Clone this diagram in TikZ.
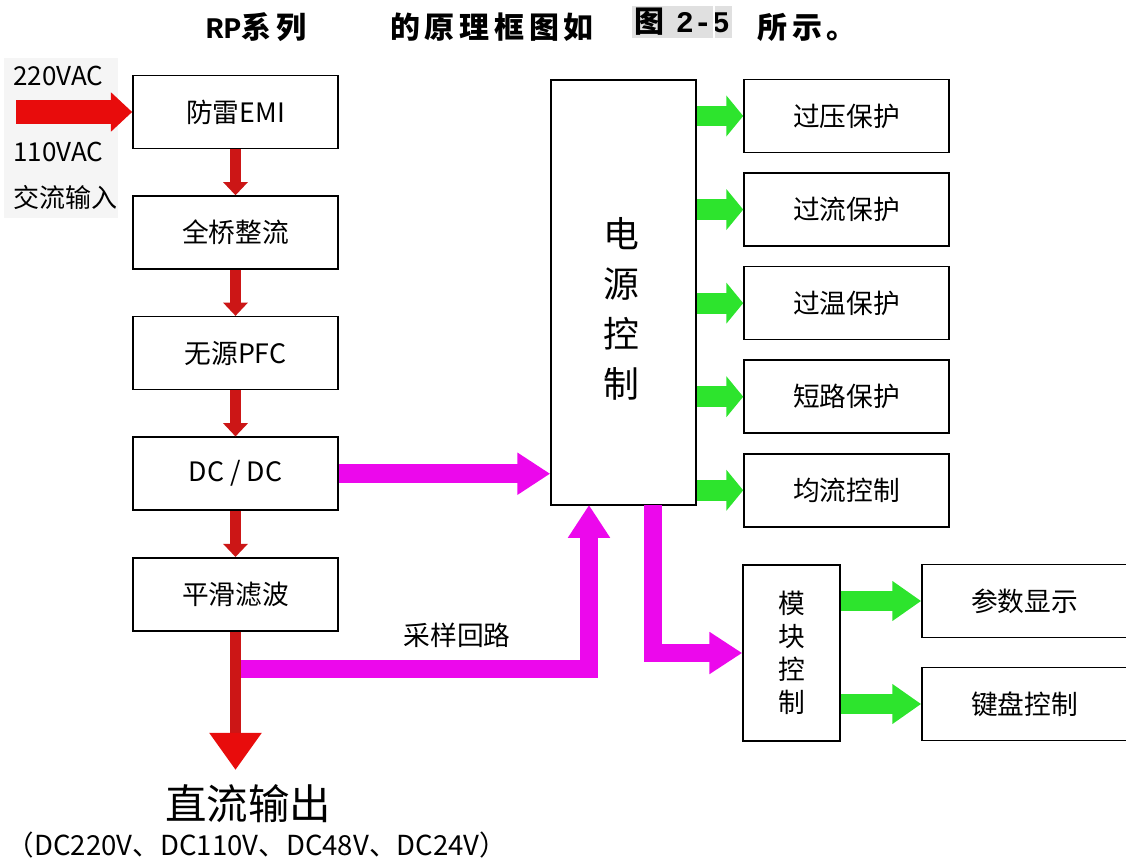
\documentclass[tikz,border=0pt]{standalone}
\usepackage{fontspec}
\setmainfont{Noto Sans CJK SC}
\newfontfamily\titlefont[LetterSpace=16]{Noto Sans CJK SC}
\newfontfamily\titlemono{Liberation Mono}
\usetikzlibrary{positioning, arrows.meta}
\definecolor{flowred}{RGB}{204,22,22}
\definecolor{inred}{RGB}{232,12,12}
\definecolor{sigmag}{RGB}{236,8,236}
\definecolor{ctlgreen}{RGB}{45,228,45}

\begin{document}
\begin{tikzpicture}[x=0.025cm, y=-0.025cm, node distance=1.15cm,
    blk/.style={draw, line width=1.1pt, fill=white, minimum width=5.125cm, minimum height=1.825cm, inner sep=0pt, font=\fontsize{19}{23}\selectfont},
    lbl/.style={inner sep=0pt, font=\fontsize{18.5}{22}\selectfont},
    ttl/.style={inner sep=0pt, font=\titlefont\bfseries\fontsize{21.3}{26}\selectfont},
    redflow/.style={draw=flowred, line width=0.26cm, -{Triangle[length=0.33cm, width=0.6cm, color=flowred]}},
    redin/.style={draw=inred, line width=0.6cm, -{Triangle[length=0.53cm, width=0.95cm, color=inred]}},
    redout/.style={draw=flowred, line width=0.28cm, -{Triangle[length=0.93cm, width=1.25cm, color=inred]}},
    magflow/.style={draw=sigmag, line width=0.47cm, -{Triangle[length=0.82cm, width=1cm, color=sigmag]}},
    grnflow/.style={draw=ctlgreen, line width=0.52cm, -{Triangle[length=0.42cm, width=1cm, color=ctlgreen]}},
    grnlong/.style={draw=ctlgreen, line width=0.5cm, -{Triangle[length=0.72cm, width=0.95cm, color=ctlgreen]}}]
      \useasboundingbox (0,0) rectangle (1126,860);

      \node[ttl] (ttlseries) at (256,27) {{\titlemono\bfseries RP}系列};
      \node[ttl] (ttltext) at (492,27) {的原理框图如};
      \node[ttl, fill=black!12, minimum width=2.5cm, minimum height=0.8cm] (ttlref) at (682,22) {图 {\titlemono\bfseries 2-5}};
      \draw[white, line width=1pt] (714,6) -- (714,38);
      \node[ttl, anchor=west] (ttlend) at (757,27) {所示。};

      \fill[black!4] (4,58) rectangle (118,218);
      \node[lbl, anchor=west] (v220) at (13,76) {220VAC};
      \node[lbl, anchor=west] (v110) at (13,152) {110VAC};
      \node[lbl, anchor=west] (acname) at (13,198) {交流输入};

      \node[blk] (emi) at (235.5,112) {防雷EMI};
      \node[blk] (bridge) [below=of emi] {全桥整流};
      \node[blk] (pfc) [below=of bridge] {无源PFC};
      \node[blk] (dcdc) [below=of pfc] {DC / DC};
      \node[blk] (filt) [below=of dcdc] {平滑滤波};

      \node[blk, minimum width=3.625cm, minimum height=10.625cm] (pc) at (623.5,292.5) {};
      \node[inner sep=0pt, align=center, font=\fontsize{25.5}{35.5}\selectfont] (pcname) at (621,309) {电\\源\\控\\制};

      \node[blk] (ovp) at (846.5,116) {过压保护};
      \node[blk] (ocp) [below=0.475cm of ovp] {过流保护};
      \node[blk] (otp) [below=0.475cm of ocp] {过温保护};
      \node[blk] (scp) [below=0.475cm of otp] {短路保护};
      \node[blk] (share) [below=0.475cm of scp] {均流控制};

      \node[blk, minimum width=2.425cm, minimum height=4.4cm, align=center, font=\fontsize{19}{23.5}\selectfont] (mod) at (791.5,653) {模\\块\\控\\制};
      \node[blk] (disp) at (1024.5,601) {参数显示};
      \node[blk] (key) at (1024.5,704) {键盘控制};

      \node[lbl, font=\fontsize{19}{23}\selectfont] (samplbl) at (457,635) {采样回路};
      \node[inner sep=0pt, font=\fontsize{29.5}{34}\selectfont] (dcname) at (248,804) {直流输出};
      \node[inner sep=0pt, font=\fontsize{19.6}{23}\selectfont] (dclist) at (257,845) {（DC220V、DC110V、DC48V、DC24V）};

      \coordinate (acin) at (16,112);
      \coordinate (dcout) at (235.5,770);
      \coordinate (tap) at (235.5,669);
      \coordinate (sampin) at (589,505);
      \coordinate (pcout) at (653,505);

      \draw[redin] (acin) -- (emi);
      \draw[redflow] (emi) -- (bridge);
      \draw[redflow] (bridge) -- (pfc);
      \draw[redflow] (pfc) -- (dcdc);
      \draw[redflow] (dcdc) -- (filt);
      \draw[magflow] (tap) -| (sampin);
      \draw[redout] (filt) -- (dcout);
      \draw[magflow] (dcdc) -- (dcdc -| pc.west);
      \draw[magflow] (pcout) |- (mod);

      \draw[grnflow] (pc.east |- ovp) -- (ovp);
      \draw[grnflow] (pc.east |- ocp) -- (ocp);
      \draw[grnflow] (pc.east |- otp) -- (otp);
      \draw[grnflow] (pc.east |- scp) -- (scp);
      \draw[grnflow] (pc.east |- share) -- (share);
      \draw[grnlong] (mod.east |- disp) -- (disp);
      \draw[grnlong] (mod.east |- key) -- (key);
    \end{tikzpicture}
\end{document}
